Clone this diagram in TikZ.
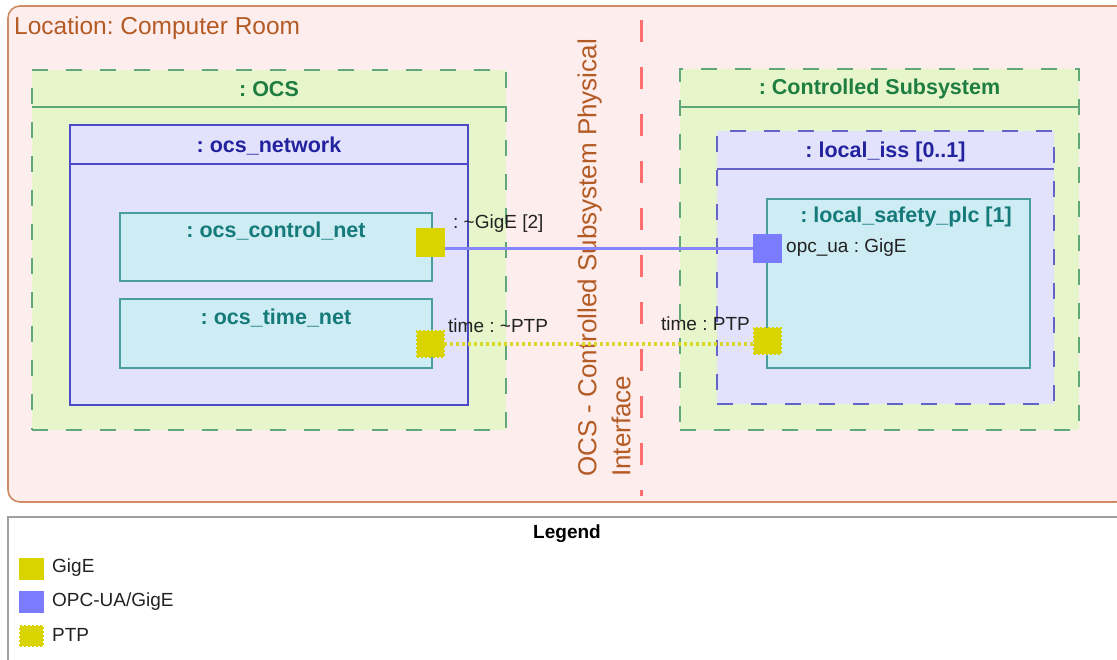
\documentclass[tikz,border=0pt]{standalone}
\usepackage{fontspec}
\setmainfont{Liberation Sans}
\usetikzlibrary{calc}
\definecolor{locfill}{HTML}{FDEEED}
\definecolor{locdraw}{HTML}{D08A64}
\definecolor{loctext}{HTML}{B45A24}
\definecolor{grnfill}{HTML}{E6F5CA}
\definecolor{grndraw}{HTML}{60A878}
\definecolor{grntext}{HTML}{1E7D40}
\definecolor{blufill}{HTML}{E2E2FC}
\definecolor{bludraw}{HTML}{4B4BC8}
\definecolor{bludash}{HTML}{6363C8}
\definecolor{blutext}{HTML}{2323A0}
\definecolor{tealfill}{HTML}{CEECF3}
\definecolor{tealdraw}{HTML}{4A9E9E}
\definecolor{tealtext}{HTML}{157A7A}
\definecolor{gigecol}{HTML}{D9D400}
\definecolor{opccol}{HTML}{7B7BFF}
\definecolor{opcline}{HTML}{8585FF}
\definecolor{ptpline}{HTML}{DCD82A}
\definecolor{divred}{HTML}{FF6E6E}
\definecolor{leggray}{HTML}{A0A0A0}
\definecolor{labeltext}{HTML}{222222}
\begin{document}
\frenchspacing
\begin{tikzpicture}[x=1pt,y=-1pt,
  box/.style={anchor=north west, inner sep=0pt, outer sep=0pt, line width=1.6pt},
  locbox/.style={box, fill=locfill, draw=locdraw, rounded corners=12pt},
  grnbox/.style={box, fill=grnfill, draw=grndraw, dash pattern=on 16pt off 18pt},
  blubox/.style={box, fill=blufill, draw=bludraw},
  bludashbox/.style={box, fill=blufill, draw=bludash, dash pattern=on 16pt off 18pt},
  tealbox/.style={box, fill=tealfill, draw=tealdraw},
  legbox/.style={box, fill=white, draw=leggray, line width=2pt},
  ttl/.style={inner sep=0pt, font=\fontsize{21.5}{24}\selectfont\bfseries},
  lbl/.style={inner sep=0pt, text=labeltext, font=\fontsize{19}{22}\selectfont},
  gigeport/.style={anchor=north west, inner sep=0pt, outer sep=0pt, fill=gigecol, minimum width=29pt, minimum height=29pt},
  opcport/.style={anchor=north west, inner sep=0pt, outer sep=0pt, fill=opccol, minimum width=29pt, minimum height=29pt},
  ptpport/.style={anchor=north west, inner sep=0pt, outer sep=0pt, fill=gigecol, draw=gigecol, line width=2.2pt, dash pattern=on 2pt off 2pt, minimum width=27pt, minimum height=26pt},
  opcconn/.style={draw=opcline, line width=2.8pt},
  ptpconn/.style={draw=ptpline, line width=3.2pt, dash pattern=on 3pt off 3pt},
  sep/.style={line width=1.6pt}
]
\useasboundingbox (0,0) rectangle (1117,660);

% Location frame
\node[locbox, minimum width=1120pt, minimum height=496pt] (loc) at (8,6) {};
\node[inner sep=0pt, anchor=west, text=loctext, font=\fontsize{24.5}{28}\selectfont] (locT) at (14,28) {Location: Computer Room};

% divider
\coordinate (divtop) at (641,20);
\coordinate (divbot) at (641,496);
\draw[divred, line width=3pt, dash pattern=on 22pt off 25pt] (divtop) -- (divbot);
\node[rotate=90, anchor=west, inner sep=0pt, align=left, text=loctext, font=\fontsize{26}{34}\selectfont] (ifT) at (604,477) {OCS - Controlled Subsystem Physical\\Interface};

% OCS
\node[grnbox, minimum width=474pt, minimum height=360pt] (ocs) at (32,70) {};
\draw[grndraw, sep] ($(ocs.north west)+(0,37)$) -- ($(ocs.north east)+(0,37)$);
\node[ttl, text=grntext] (ocsT) at ($(ocs.north)+(0,19)$) {: OCS};

\node[blubox, minimum width=398pt, minimum height=280pt] (net) at (70,125) {};
\draw[bludraw, sep] ($(net.north west)+(0,39)$) -- ($(net.north east)+(0,39)$);
\node[ttl, text=blutext] (netT) at ($(net.north)+(0,21)$) {: ocs\_network};

\node[tealbox, minimum width=312pt, minimum height=68pt] (ctl) at (120,213) {};
\node[ttl, text=tealtext] (ctlT) at ($(ctl.north)+(0,18)$) {: ocs\_control\_net};
\node[tealbox, minimum width=312pt, minimum height=69pt] (tim) at (120,299) {};
\node[ttl, text=tealtext] (timT) at ($(tim.north)+(0,19)$) {: ocs\_time\_net};

\node[gigeport] (pgL) at (416,228) {};
\node[ptpport] (ptpL) at (417,331) {};
\node[lbl, anchor=west] (pgLT) at (453,224) {: \textasciitilde GigE [2]};
\node[lbl, anchor=west] (ptpLT) at (448,326) {time : \textasciitilde PTP};

% Controlled subsystem
\node[grnbox, minimum width=399pt, minimum height=361pt] (cs) at (680,69) {};
\draw[grndraw, sep] ($(cs.north west)+(0,38)$) -- ($(cs.north east)+(0,38)$);
\node[ttl, text=grntext] (csT) at ($(cs.north)+(0,20)$) {: Controlled Subsystem};

\node[bludashbox, minimum width=337pt, minimum height=273pt] (iss) at (717,131) {};
\draw[bludash, sep] ($(iss.north west)+(0,38)$) -- ($(iss.north east)+(0,38)$);
\node[ttl, text=blutext] (issT) at ($(iss.north)+(0,21)$) {: local\_iss [0..1]};

\node[tealbox, minimum width=263pt, minimum height=169pt] (plc) at (767,199) {};
\node[ttl, text=tealtext] (plcT) at (906,217) {: local\_safety\_plc [1]};

\node[opcport] (opcR) at (753,234) {};
\node[ptpport] (ptpR) at (754,328) {};
\node[lbl, anchor=west] (opcRT) at (786,248) {opc\_ua : GigE};
\node[lbl, anchor=east] (ptpRT) at (750,324) {time : PTP};

% connectors
\draw[opcconn] (pgL.east |- opcR.west) -- (opcR.west);
\draw[ptpconn] (ptpL.east) -- (ptpL.east -| ptpR.west);

% Legend
\node[legbox, minimum width=1120pt, minimum height=200pt] (leg) at (8,517) {};
\node[inner sep=0pt, font=\fontsize{19}{22}\selectfont\bfseries] (legT) at (567,534) {Legend};
\node[gigeport, minimum width=25pt, minimum height=22pt] (lg1) at (19,558) {};
\node[opcport, minimum width=25pt, minimum height=22pt] (lg2) at (19,591) {};
\node[ptpport, minimum width=23pt, minimum height=20pt] (lg3) at (20,626) {};
\node[lbl, anchor=west] (lg1T) at (52,568) {GigE};
\node[lbl, anchor=west] (lg2T) at (52,602) {OPC-UA/GigE};
\node[lbl, anchor=west] (lg3T) at (52,635) {PTP};
\end{tikzpicture}
\end{document}
